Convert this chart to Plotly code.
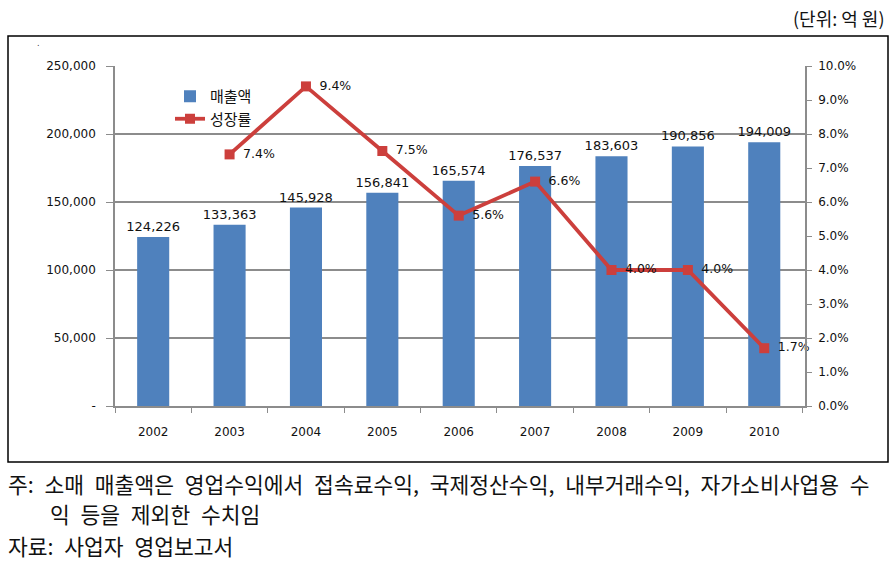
import plotly.graph_objects as go

years = ["2002", "2003", "2004", "2005", "2006", "2007", "2008", "2009", "2010"]
sales = [124226, 133363, 145928, 156841, 165574, 176537, 183603, 190856, 194009]
growth_years = ["2003", "2004", "2005", "2006", "2007", "2008", "2009", "2010"]
growth = [7.4, 9.4, 7.5, 5.6, 6.6, 4.0, 4.0, 1.7]
left_ticks = [0, 50000, 100000, 150000, 200000, 250000]
left_ticktext = ["-", "50,000", "100,000", "150,000", "200,000", "250,000"]

W, H = 892, 562
def px(x): return x / W
def py(y): return 1 - y / H

fig = go.Figure()
fig.add_trace(go.Bar(
    x=years, y=sales, name="매출액",
    marker=dict(color="#4F81BD", line=dict(width=0)),
    text=[f"{v:,}" for v in sales], textposition="outside", constraintext="none",
    textfont=dict(family="DejaVu Sans", size=13, color="#111"),
    cliponaxis=False,
))
fig.add_trace(go.Scatter(
    x=growth_years, y=growth, name="성장률", yaxis="y2",
    mode="lines+markers+text",
    line=dict(color="#CC3F3C", width=3.8),
    marker=dict(symbol="square", size=10, color="#CC3F3C"),
    text=[f"\u2002{v:.1f}%" for v in growth], textposition="middle right",
    textfont=dict(family="DejaVu Sans", size=12.5, color="#111"),
    cliponaxis=False,
))

axis_font = dict(family="DejaVu Sans", size=12, color="#111")
fig.update_layout(
    width=W, height=H,
    margin=dict(l=0, r=0, t=0, b=0),
    paper_bgcolor="white", plot_bgcolor="white",
    bargap=0.58,
    showlegend=True,
    legend=dict(x=px(170), y=py(80), xanchor="left", yanchor="top",
                bgcolor="rgba(0,0,0,0)", font=dict(family="Noto Sans CJK KR", size=15, color="#111"),
                itemwidth=30),
    xaxis=dict(domain=[px(115), px(805)], showline=True, linecolor="#8C8C8C", linewidth=1.5,
               ticks="outside", tickson="boundaries", ticklen=5, tickcolor="#8C8C8C", ticklabelstandoff=14,
               tickfont=axis_font, automargin=False, showgrid=False),
    yaxis=dict(domain=[py(406), py(66)], range=[0, 250000], tickvals=left_ticks, ticktext=left_ticktext,
               showline=True, linecolor="#8C8C8C", linewidth=1.5,
               showgrid=True, gridcolor="#8C8C8C", gridwidth=1.5,
               ticks="outside", ticklen=7, tickcolor="#8C8C8C", ticklabelstandoff=8,
               tickfont=axis_font, automargin=False, zeroline=False),
    yaxis2=dict(overlaying="y", side="right", range=[0, 10], dtick=1, tickformat=".1f", ticksuffix="%",
                showline=True, linecolor="#8C8C8C", linewidth=1.5, showgrid=False,
                ticks="outside", ticklen=5, tickcolor="#8C8C8C", ticklabelstandoff=4,
                tickfont=axis_font, automargin=False, zeroline=False),
    shapes=[dict(type="rect", xref="paper", yref="paper", x0=px(8), x1=px(888), y0=py(462), y1=py(36),
                 line=dict(color="black", width=1.5), fillcolor="rgba(0,0,0,0)", layer="below")],
)

SP = "\u2002"
note_font = dict(family="Noto Sans CJK KR", size=21.5, color="#111")
line1 = "주: 소매 매출액은 영업수익에서 접속료수익, 국제정산수익, 내부거래수익, 자가소비사업용 수".replace(" ", SP)
line2 = "익 등을 제외한 수치임".replace(" ", SP)
line3 = "자료: 사업자 영업보고서".replace(" ", SP)
fig.add_annotation(text="(단위: 억 원)", x=px(886), y=py(18), xref="paper", yref="paper",
                   xanchor="right", yanchor="middle", showarrow=False,
                   font=dict(family="Noto Sans CJK KR", size=18, color="#111"))
fig.add_annotation(text=line1, x=px(6), y=py(483), xref="paper", yref="paper", xanchor="left", yanchor="middle",
                   showarrow=False, font=note_font)
fig.add_annotation(text=line2, x=px(48), y=py(513), xref="paper", yref="paper",
                   xanchor="left", yanchor="middle", showarrow=False, font=note_font)
fig.add_annotation(text=line3, x=px(6), y=py(545), xref="paper", yref="paper",
                   xanchor="left", yanchor="middle", showarrow=False, font=note_font)
fig.add_annotation(text=".", x=px(38), y=py(44), xref="paper", yref="paper",
                   xanchor="center", yanchor="middle", showarrow=False,
                   font=dict(family="DejaVu Sans", size=8, color="#333"))

fig.write_html("out.html", config={"displayModeBar": False},
               post_script="document.body.style.margin='0';document.body.style.overflow='hidden';")
